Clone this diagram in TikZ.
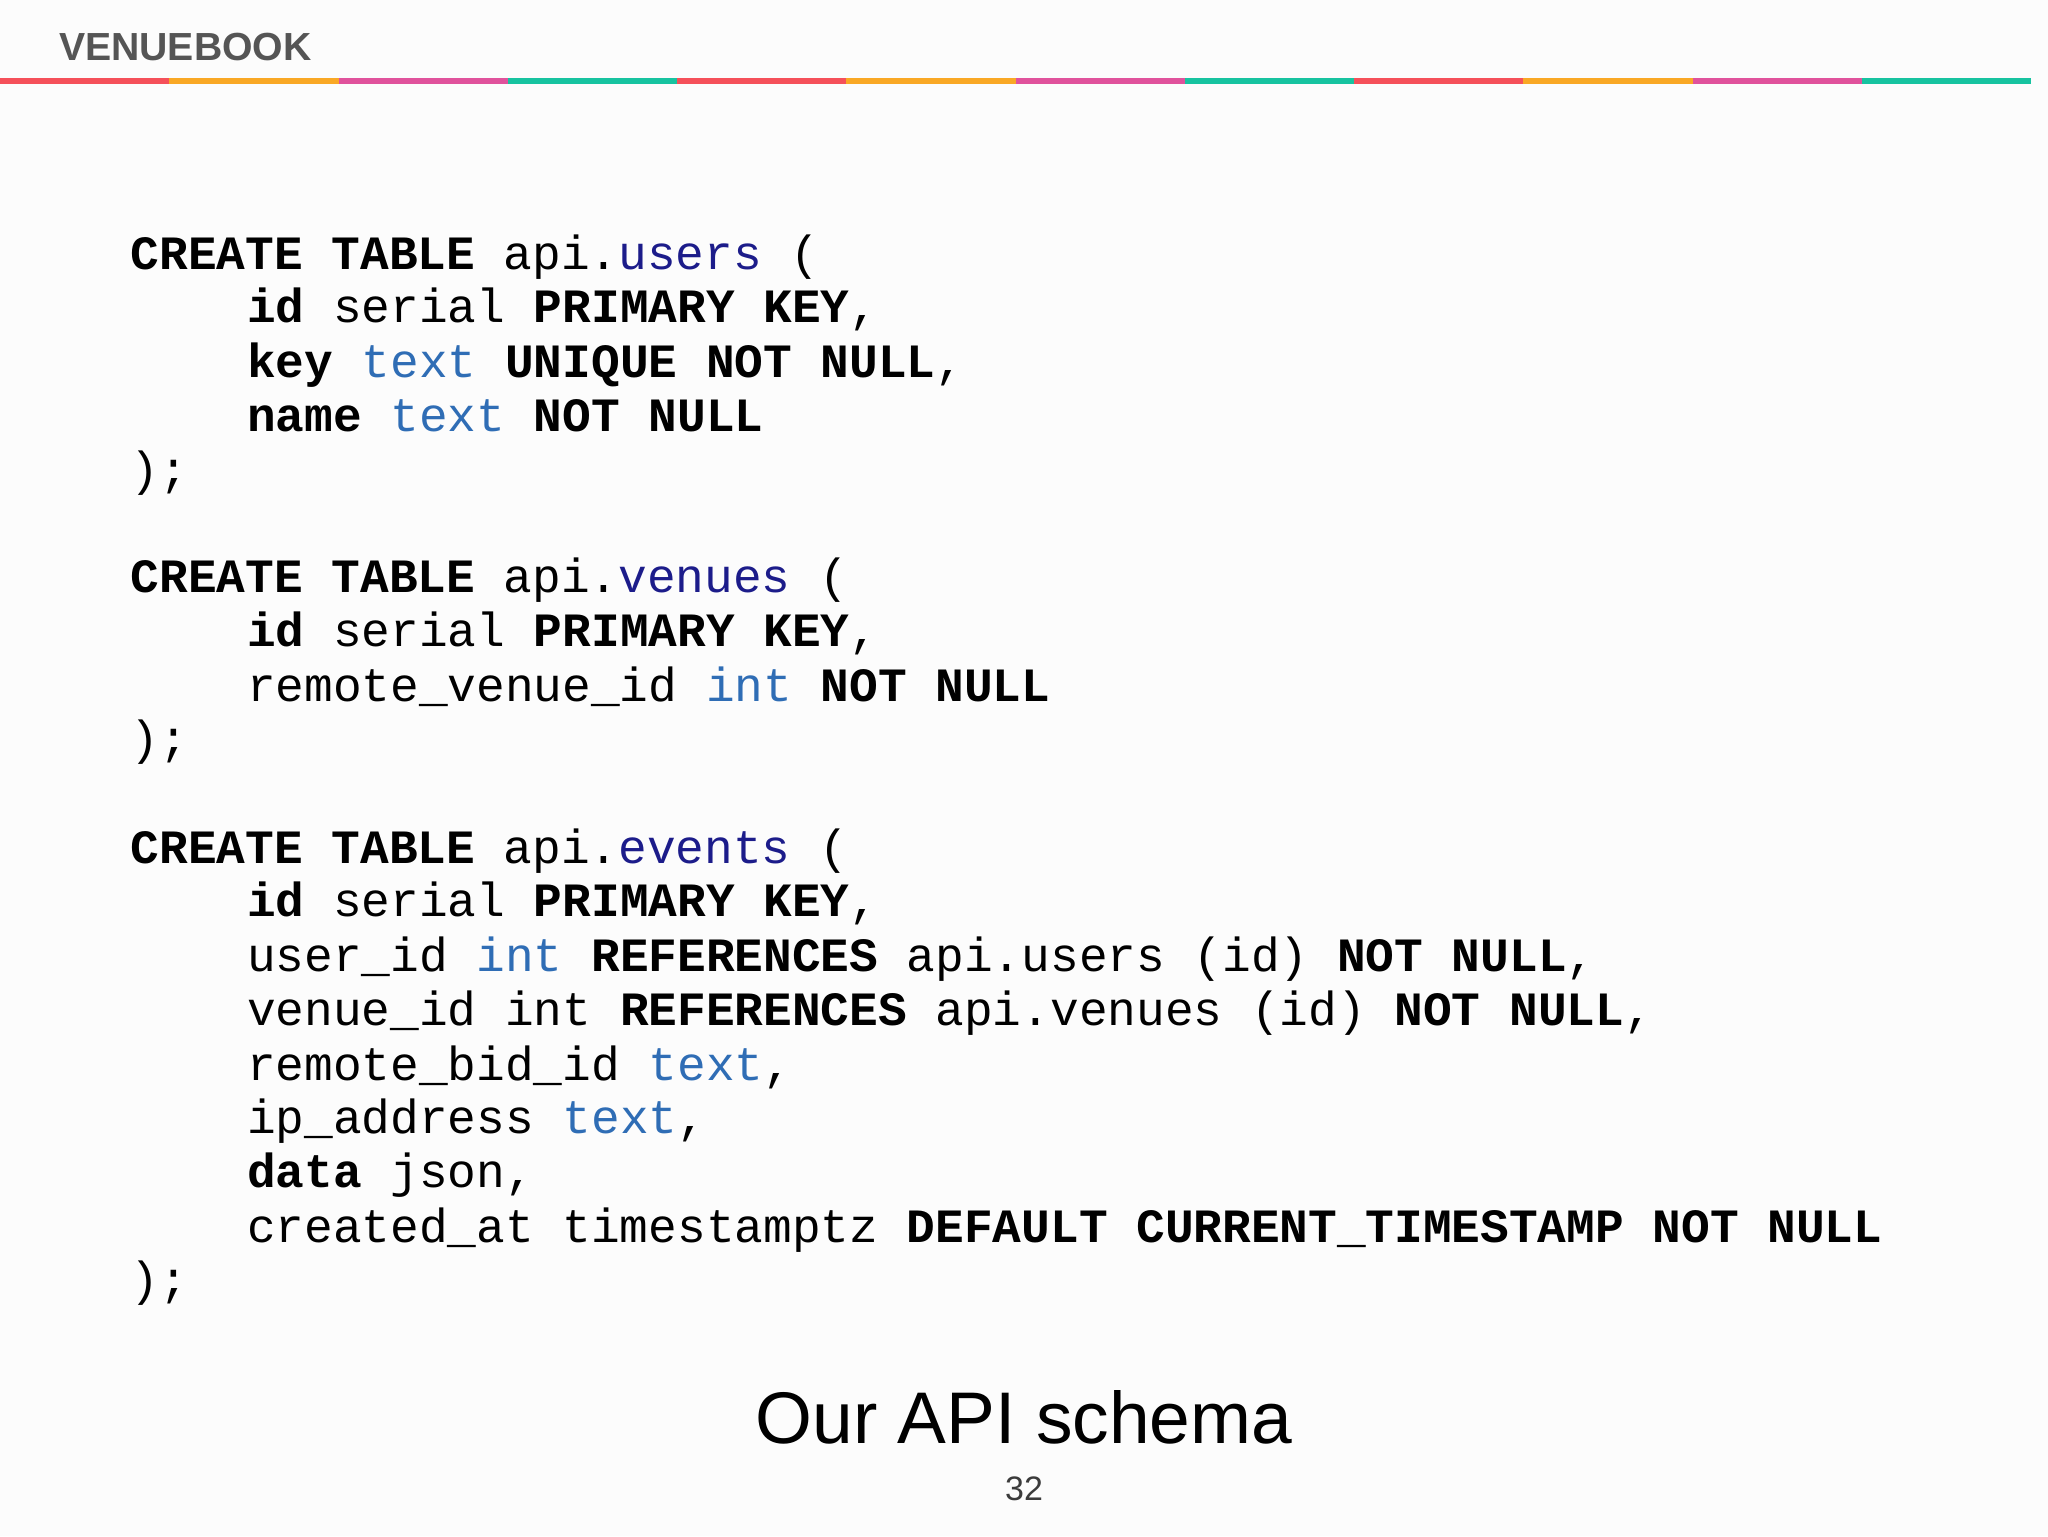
\documentclass[tikz,border=0pt]{standalone}
\usepackage{fontspec}
\setmainfont{Liberation Sans}
\newfontfamily\codefont{Liberation Mono}
\definecolor{navy}{HTML}{1C1C8A}
\definecolor{tblue}{HTML}{2F6DB5}
\definecolor{cRed}{HTML}{F5505A}
\definecolor{cOra}{HTML}{F9A825}
\definecolor{cPink}{HTML}{E0529C}
\definecolor{cTeal}{HTML}{17C3A0}
\definecolor{hdr}{HTML}{555555}
\newcommand{\nv}[1]{\textcolor{navy}{#1}}
\newcommand{\tb}[1]{\textcolor{tblue}{#1}}
\newcommand{\bb}[1]{\textbf{#1}}
\begin{document}
\begin{tikzpicture}[x=1pt,y=-1pt,
  code/.style={anchor=base west,inner sep=0pt,font=\codefont\fontsize{36.6}{40}\selectfont}]
\fill[white!99!black] (0,0) rectangle (1568,1176);
\useasboundingbox (0,0) rectangle (1568,1176);
\node[anchor=base west,inner sep=0pt,text=hdr,font=\bfseries\fontsize{30}{32}\selectfont] (hdr) at (45,46) {VENUEBOOK};
\foreach \i/\c in {0/cRed,1/cOra,2/cPink,3/cTeal,4/cRed,5/cOra,6/cPink,7/cTeal,8/cRed,9/cOra,10/cPink,11/cTeal}
  \fill[\c] (\i*129.6,59.5) rectangle (\i*129.6+129.6,64.5);
\def\L{100}\def\I{189}
\node[code] (a1) at (\L,206) {\bb{CREATE TABLE} api.\nv{users} (};
\node[code] (a2) at (\I,247) {\bb{id} serial \bb{PRIMARY KEY},};
\node[code] (a3) at (\I,289) {\bb{key} \tb{text} \bb{UNIQUE NOT NULL},};
\node[code] (a4) at (\I,330) {\bb{name} \tb{text} \bb{NOT NULL}};
\node[code] (a5) at (\L,372) {);};
\node[code] (b1) at (\L,454) {\bb{CREATE TABLE} api.\nv{venues} (};
\node[code] (b2) at (\I,495) {\bb{id} serial \bb{PRIMARY KEY},};
\node[code] (b3) at (\I,537) {remote\_venue\_id \tb{int} \bb{NOT NULL}};
\node[code] (b4) at (\L,578) {);};
\node[code] (c1) at (\L,661) {\bb{CREATE TABLE} api.\nv{events} (};
\node[code] (c2) at (\I,702) {\bb{id} serial \bb{PRIMARY KEY},};
\node[code] (c3) at (\I,744) {user\_id \tb{int} \bb{REFERENCES} api.users (id) \bb{NOT NULL},};
\node[code] (c4) at (\I,785) {venue\_id int \bb{REFERENCES} api.venues (id) \bb{NOT NULL},};
\node[code] (c5) at (\I,827) {remote\_bid\_id \tb{text},};
\node[code] (c6) at (\I,868) {ip\_address \tb{text},};
\node[code] (c7) at (\I,909) {\bb{data} json,};
\node[code] (c8) at (\I,951) {created\_at timestamptz \bb{DEFAULT CURRENT\_TIMESTAMP NOT NULL}};
\node[code] (c9) at (\L,992) {);};
\node[anchor=base,inner sep=0pt,font=\fontsize{56}{60}\selectfont] (title) at (784,1105) {Our API schema};
\node[anchor=base,inner sep=0pt,text=hdr!70!black,font=\fontsize{26}{28}\selectfont] (pg) at (784,1149) {32};
\end{tikzpicture}
\end{document}
